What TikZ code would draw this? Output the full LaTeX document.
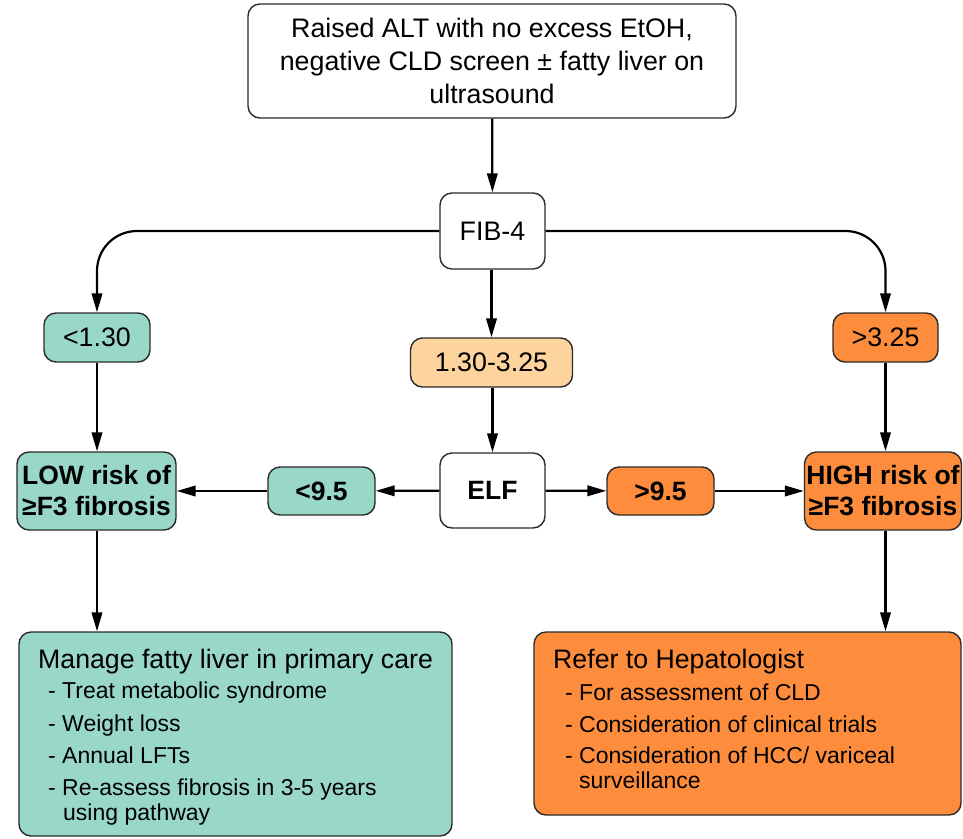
\documentclass[tikz,border=0pt]{standalone}
\usepackage{fontspec}
\setmainfont{Liberation Sans}
\usetikzlibrary{arrows.meta}
\definecolor{teal1}{HTML}{99D8C9}
\definecolor{orng}{HTML}{FD8D3C}
\definecolor{lorng}{HTML}{FDD49E}
\definecolor{edge}{HTML}{2B2B2B}
\tikzset{
  box/.style={draw=edge, line width=1.4pt, rounded corners=12pt, inner sep=0pt, align=center,
    font=\fontsize{26.8}{33}\selectfont},
  boldbox/.style={box, font=\fontsize{26.5}{31}\selectfont\bfseries},
  arr/.style={line width=2.2pt, -{Triangle[length=19pt,width=10.5pt]}},
  head/.style={anchor=base west, inner sep=0pt, font=\fontsize{26.7}{30}\selectfont},
  item/.style={anchor=base west, inner sep=0pt, font=\fontsize{23}{26}\selectfont},
}
\begin{document}
\begin{tikzpicture}[x=1pt,y=-1pt]
\useasboundingbox (0,0) rectangle (963,838);
% nodes
\node[box, minimum width=488pt, minimum height=114pt] (top) at (492,61)
  {Raised ALT with no excess EtOH,\\negative CLD screen ± fatty liver on\\ultrasound};
\node[box, fill=white, minimum width=105pt, minimum height=76pt] (fib) at (492.5,231) {FIB-4};
\node[box, fill=teal1, minimum width=106pt, minimum height=49pt] (lt) at (97,337.5) {<1.30};
\node[box, fill=lorng, minimum width=162pt, minimum height=49pt] (mid) at (491.5,362.5) {1.30-3.25};
\node[box, fill=orng, minimum width=105pt, minimum height=49pt] (gt) at (885.5,337.5) {>3.25};
\node[boldbox, fill=teal1, minimum width=159pt, minimum height=78pt] (low) at (96.5,491)
  {LOW risk of\\≥F3 fibrosis};
\node[boldbox, fill=white, minimum width=105pt, minimum height=75pt] (elf) at (492.5,490.5) {ELF};
\node[boldbox, fill=orng, minimum width=157pt, minimum height=78pt] (high) at (883,491)
  {HIGH risk of\\≥F3 fibrosis};
\node[boldbox, fill=teal1, minimum width=107pt, minimum height=48pt] (lt95) at (321.5,491) {<9.5};
\node[boldbox, fill=orng, minimum width=107pt, minimum height=48pt] (gt95) at (660.5,491) {>9.5};
\node[box, fill=teal1, minimum width=433pt, minimum height=204pt] (lbox) at (235.5,734) {};
\node[box, fill=orng, minimum width=427pt, minimum height=183pt] (rbox) at (747.5,723.5) {};
% left box text
\node[head] (lh) at (38,668) {Manage fatty liver in primary care};
\node[item] (l1) at (48,698) {- Treat metabolic syndrome};
\node[item] (l2) at (48,731) {- Weight loss};
\node[item] (l3) at (48,763) {- Annual LFTs};
\node[item] (l4) at (48,795) {- Re-assess fibrosis in 3-5 years};
\node[item] (l5) at (63,820) {using pathway};
% right box text
\node[head] (rh) at (553,668) {Refer to Hepatologist};
\node[item] (r1) at (565,700) {- For assessment of CLD};
\node[item] (r2) at (565,732) {- Consideration of clinical trials};
\node[item] (r3) at (565,763) {- Consideration of HCC/ variceal};
\node[item] (r4) at (579,788) {surveillance};
% connectors
\draw[arr] (top) -- (fib);
\draw[arr, rounded corners=40pt] (fib.west) -- (fib.west -| lt.north) -- (lt.north);
\draw[arr, rounded corners=40pt] (fib.east) -- (fib.east -| gt.north) -- (gt.north);
\draw[arr] (fib.south -| mid.north) -- (mid.north);
\draw[arr] (mid.south -| elf.north) -- (elf.north);
\draw[arr] (lt.south) -- (lt.south |- low.north);
\draw[arr] (gt.south) -- (gt.south |- high.north);
\draw[arr] (elf) -- (lt95);
\draw[arr] (lt95) -- (low);
\draw[arr] (elf) -- (gt95);
\draw[arr] (gt95) -- (high);
\draw[arr] (lt.south |- low.south) -- (lt.south |- lbox.north);
\draw[arr] (gt.south |- high.south) -- (gt.south |- rbox.north);
\end{tikzpicture}
\end{document}
